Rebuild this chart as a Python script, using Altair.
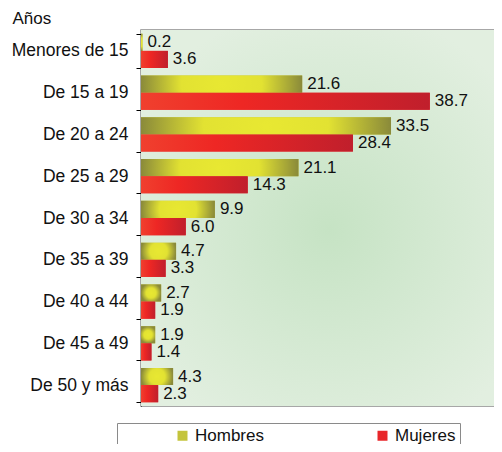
import altair as alt
import pandas as pd

categorias = ["Menores de 15", "De 15 a 19", "De 20 a 24", "De 25 a 29", "De 30 a 34",
              "De 35 a 39", "De 40 a 44", "De 45 a 49", "De 50 y más"]
hombres = [0.2, 21.6, 33.5, 21.1, 9.9, 4.7, 2.7, 1.9, 4.3]
mujeres = [3.6, 38.7, 28.4, 14.3, 6.0, 3.3, 1.9, 1.4, 2.3]
series = ["Hombres", "Mujeres"]

rows = []
for c, h, m in zip(categorias, hombres, mujeres):
    rows.append({"edad": c, "sexo": "Hombres", "valor": h})
    rows.append({"edad": c, "sexo": "Mujeres", "valor": m})
df = pd.DataFrame(rows)

FONT = "Liberation Sans"
TXT = "#111111"

y_enc = alt.Y(
    "edad:N", sort=categorias,
    scale=alt.Scale(paddingInner=0.18, paddingOuter=0.09),
    axis=alt.Axis(
        title="Años", titleAngle=0, titleAlign="left", titleBaseline="alphabetic",
        titleX=-129, titleY=-7, titleFont=FONT, titleFontSize=17,
        titleFontWeight="normal", titleColor=TXT,
        labelFont=FONT, labelFontSize=17.5, labelColor=TXT, labelPadding=8,
        labelLimit=220, tickBand="extent", tickSize=5, tickColor="#000000",
        domainColor="#000000", domainWidth=1, grid=False,
    ),
)
yoff = alt.YOffset("sexo:N", sort=series, scale=alt.Scale(paddingInner=0, paddingOuter=0))
x_enc = alt.X("valor:Q", scale=alt.Scale(domain=[0, 47.3], nice=False, zero=True), axis=None)

pad_label = "\u00a0" * 14
color = alt.Color(
    "sexo:N", sort=series,
    scale=alt.Scale(domain=series, range=["#c4c43c", "#e8262a"]),
    legend=alt.Legend(
        title=None, orient="none", legendX=-24, legendY=393,
        direction="horizontal", symbolType="square", symbolSize=100,
        symbolStrokeWidth=0, symbolOffset=53, labelOffset=4,
        labelFont=FONT, labelFontSize=17, labelColor=TXT,
        strokeColor="#8a8a8a", fillColor="#ffffff", padding=4,
        columnPadding=57,
        labelExpr="datum.label == 'Mujeres' ? 'Mujeres" + pad_label + "' : datum.label",
    ),
)

grad_h = {
    "gradient": "radial",
    "x1": 0.5, "y1": 0.5, "r1": 0,
    "x2": 0.5, "y2": 0.5, "r2": 0.5,
    "stops": [
        {"offset": 0, "color": "#e8e832"},
        {"offset": 0.5, "color": "#e2e232"},
        {"offset": 1, "color": "#8a8a3a"},
    ],
}
grad_m = {
    "gradient": "linear",
    "x1": 0, "y1": 0, "x2": 1, "y2": 0,
    "stops": [
        {"offset": 0, "color": "#f0402e"},
        {"offset": 0.35, "color": "#ee2724"},
        {"offset": 1, "color": "#c01f2c"},
    ],
}
grad_bg = {
    "gradient": "radial",
    "x1": 0.53, "y1": 0.53, "r1": 0,
    "x2": 0.53, "y2": 0.53, "r2": 0.6,
    "stops": [
        {"offset": 0, "color": "#c6e3c4"},
        {"offset": 1, "color": "#e2efe0"},
    ],
}

bg = alt.Chart(pd.DataFrame({"k": [0]})).mark_rect(fill=grad_bg).encode(
    x=alt.value(0), x2=alt.value("width"), y=alt.value(0), y2=alt.value("height"))
base = alt.Chart(df).mark_bar().encode(y=y_enc, yOffset=yoff, x=x_enc, color=color)
bars_h = alt.Chart(df).transform_filter(alt.datum.sexo == "Hombres").mark_bar(fill=grad_h).encode(
    y=y_enc, yOffset=yoff, x=x_enc)
bars_m = alt.Chart(df).transform_filter(alt.datum.sexo == "Mujeres").mark_bar(fill=grad_m).encode(
    y=y_enc, yOffset=yoff, x=x_enc)
labels = alt.Chart(df).mark_text(
    align="left", baseline="middle", dx=5, font=FONT, fontSize=17, color=TXT
).encode(y=y_enc, yOffset=yoff, x=x_enc, text=alt.Text("valor:Q", format=".1f"))

chart = alt.layer(bg, base, bars_h, bars_m, labels).properties(
    width=353, height=376, autosize="none",
    padding={"left": 133, "top": 22, "right": 0, "bottom": 38},
    background="#ffffff",
).configure_view(stroke="#8a8a8a", strokeWidth=1.5)

chart.save("out.html", embed_options={"renderer": "svg", "actions": False})
